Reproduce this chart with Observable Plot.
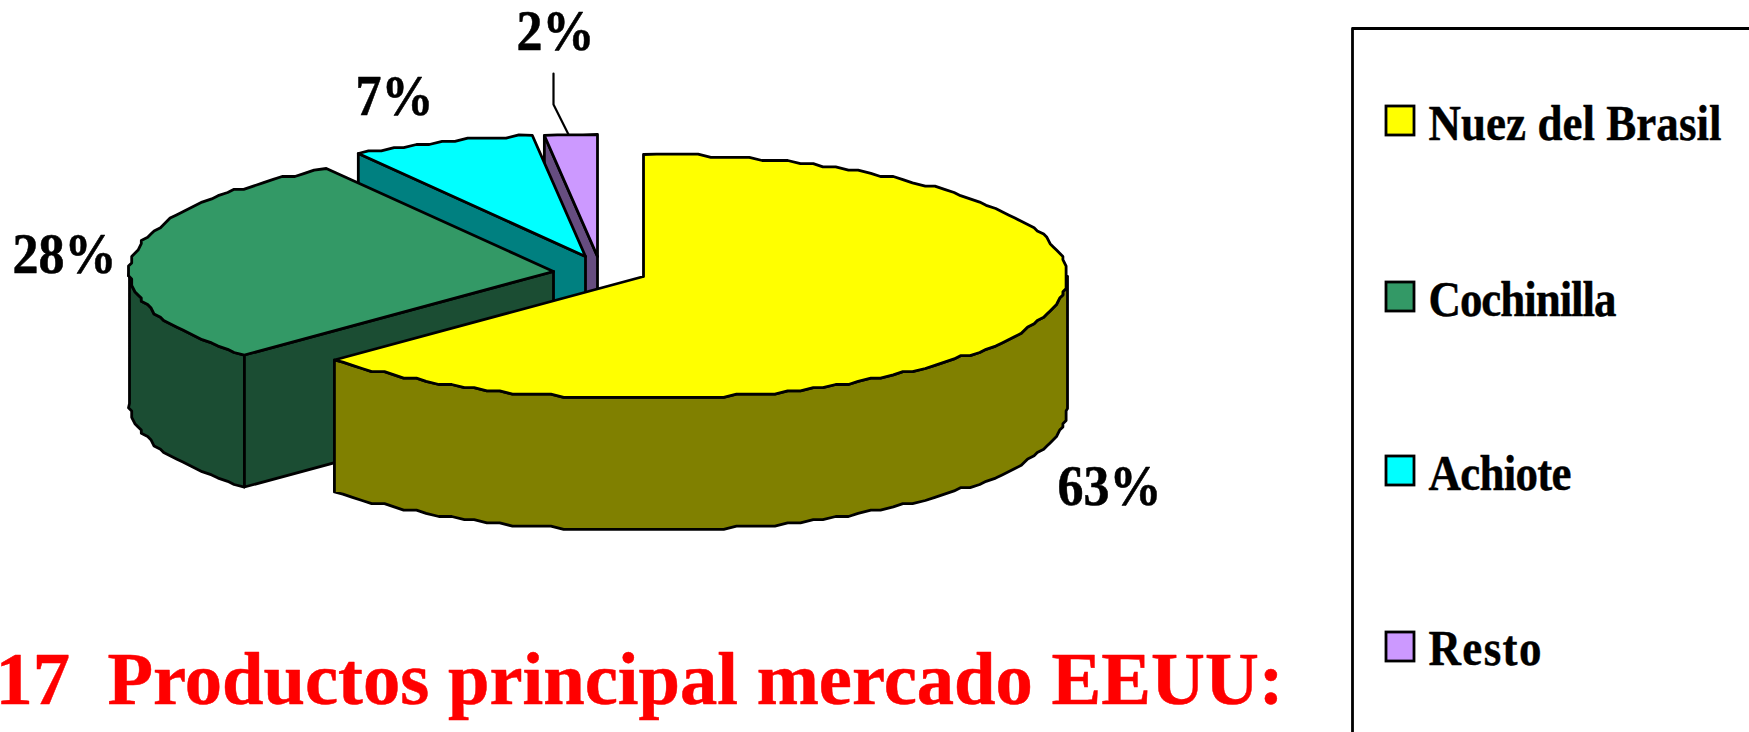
<!DOCTYPE html>
<html>
<head>
<meta charset="utf-8">
<script src="https://cdn.jsdelivr.net/npm/d3@7"></script>
<script src="https://cdn.jsdelivr.net/npm/@observablehq/plot@0.6"></script>
<style>
html,body{margin:0;padding:0;background:#fff;overflow:hidden}
svg{display:block}
</style>
</head>
<body>
<div id="chart"></div>
<script>
// Data
const categories = ["Nuez del Brasil", "Cochinilla", "Achiote", "Resto"];
const shares = [63, 28, 7, 2];
const shareLabels = ["63%", "28%", "7%", "2%"];
const titleText = "17\u00a0\u00a0Productos principal mercado EEUU:";

// Styling and layout (in page pixels, used as the units of the x and y scales)
const topColors = ["#FFFF00", "#339966", "#00FFFF", "#CC99FF"];
const wallColors = ["#808000", "#1B4D33", "#008080", "#664D80"];
const centreX = [643, 553, 585, 597];
const centreY = [276, 271, 256, 256];
const rx = 424, ry = 122, depth = 132, snap = 3.2, arcStep = 0.5;
const labelX = [1057, 12, 355, 516];
const labelY = [504, 272, 114, 49];
const legendRowY = [106, 282, 456, 632];
const legendBaseline = [139, 315, 489, 664];
const legendTextWidth = [293, 188, 143, 113];

const starts = d3.cumsum([0, ...shares]);
const pt = (i, pct) => {
  const a = (pct / 100) * 2 * Math.PI;
  return {x: centreX[i] + rx * Math.sin(a), y: centreY[i] - ry * Math.cos(a)};
};
// samples sit on one shared grid of the rim, so a slice's top edge and its wall coincide
const arc = (i, p0, p1) => {
  const out = [pt(i, p0)];
  for (let k = Math.floor(p0 / arcStep) + 1; k * arcStep < p1; k++) {
    const q = pt(i, k * arcStep);
    const s = {x: Math.round(q.x / snap) * snap, y: Math.round(q.y / snap) * snap};
    const l = out[out.length - 1];
    if (s.x !== l.x || s.y !== l.y) out.push(s);
  }
  out.push(pt(i, p1));
  return out;
};
const down = (pts) => pts.map(p => ({x: p.x, y: p.y + depth}));
const close = (pts) => [...pts, pts[0]];
const apex = (i) => ({x: centreX[i], y: centreY[i]});

const topFace = (i) => close([apex(i), ...arc(i, starts[i], starts[i + 1])]).map(p => ({...p, cat: categories[i]}));
const rimWall = (i, p0, p1) => { const a = arc(i, p0, p1); return close([...a, ...down(a).reverse()]); };
const cutWall = (i, p) => { const a = [apex(i), pt(i, p)]; return close([...a, ...down(a).reverse()]); };

const lw = 2.8;
const poly = (data, fill) => Plot.line(data, {x: "x", y: "y", fill, stroke: "#000", strokeWidth: lw, strokeLinejoin: "round"});
const topMark = (i) => poly(topFace(i), "cat");

const legendRows = categories.map((cat, i) => ({cat, y1: legendRowY[i], y2: legendRowY[i] + 29, yb: legendBaseline[i], w: legendTextWidth[i]}));
const pctRows = shareLabels.map((t, i) => ({t, x: labelX[i], y: labelY[i]}));

const svg = Plot.plot({
  width: 1749, height: 732,
  margin: 0,
  x: {domain: [0, 1749], range: [0, 1749], axis: null},
  y: {domain: [0, 732], range: [0, 732], axis: null},
  color: {domain: categories, range: topColors},
  style: {background: "#fff", fontFamily: "'Liberation Serif', serif"},
  marks: [
    // back to front: Resto, Achiote, Cochinilla, Nuez del Brasil
    poly(cutWall(3, starts[3]), wallColors[3]),
    topMark(3),
    poly(cutWall(2, starts[2]), wallColors[2]),
    topMark(2),
    poly(rimWall(1, starts[1], 75), wallColors[1]),
    poly(cutWall(1, starts[1]), wallColors[1]),
    topMark(1),
    poly(rimWall(0, 25, starts[1]), wallColors[0]),
    topMark(0),
    // leader line of the 2% label
    Plot.line([{x: 553, y: 73}, {x: 553, y: 104}, {x: 568, y: 134}], {x: "x", y: "y", stroke: "#000", strokeWidth: 2.2}),
    // percent labels
    Plot.text(pctRows, {x: "x", y: "y", text: "t", textAnchor: "start", lineAnchor: "bottom", fontSize: 52, fontWeight: "bold", fill: "#000", stroke: "#000", strokeWidth: 0.5, className: "pct"}),
    // title
    Plot.text([titleText], {x: () => -5, y: () => 703, text: d => d, textAnchor: "start", lineAnchor: "bottom", fontSize: 74.6, fontWeight: "bold", fill: "#FF0000", stroke: "#FF0000", strokeWidth: 0.5}),
    // legend frame, open at the page edges
    Plot.line([{x: 1352, y: 732}, {x: 1352, y: 28}, {x: 1749, y: 28}], {x: "x", y: "y", stroke: "#000", strokeWidth: 2.8}),
    Plot.rect(legendRows, {x1: () => 1386, x2: () => 1414, y1: "y1", y2: "y2", fill: "cat", stroke: "#000", strokeWidth: 2.8}),
    Plot.text(legendRows, {x: () => 1428, y: "yb", text: "cat", textAnchor: "start", lineAnchor: "bottom", fontSize: 45, fontWeight: "bold", fill: "#000", stroke: "#000", strokeWidth: 0.4, className: "leg"})
  ]
});

// labels are drawn stretched vertically in the reference
svg.querySelectorAll(".pct text").forEach(t => {
  t.setAttribute("transform", (t.getAttribute("transform") || "") + " scale(1,1.11)");
});
svg.querySelectorAll(".leg text").forEach((t, i) => {
  t.setAttribute("transform", (t.getAttribute("transform") || "") + " scale(1,1.12)");
  t.setAttribute("textLength", legendTextWidth[i]);
  t.setAttribute("lengthAdjust", "spacing");
});
document.getElementById("chart").appendChild(svg);
</script>
</body>
</html>
